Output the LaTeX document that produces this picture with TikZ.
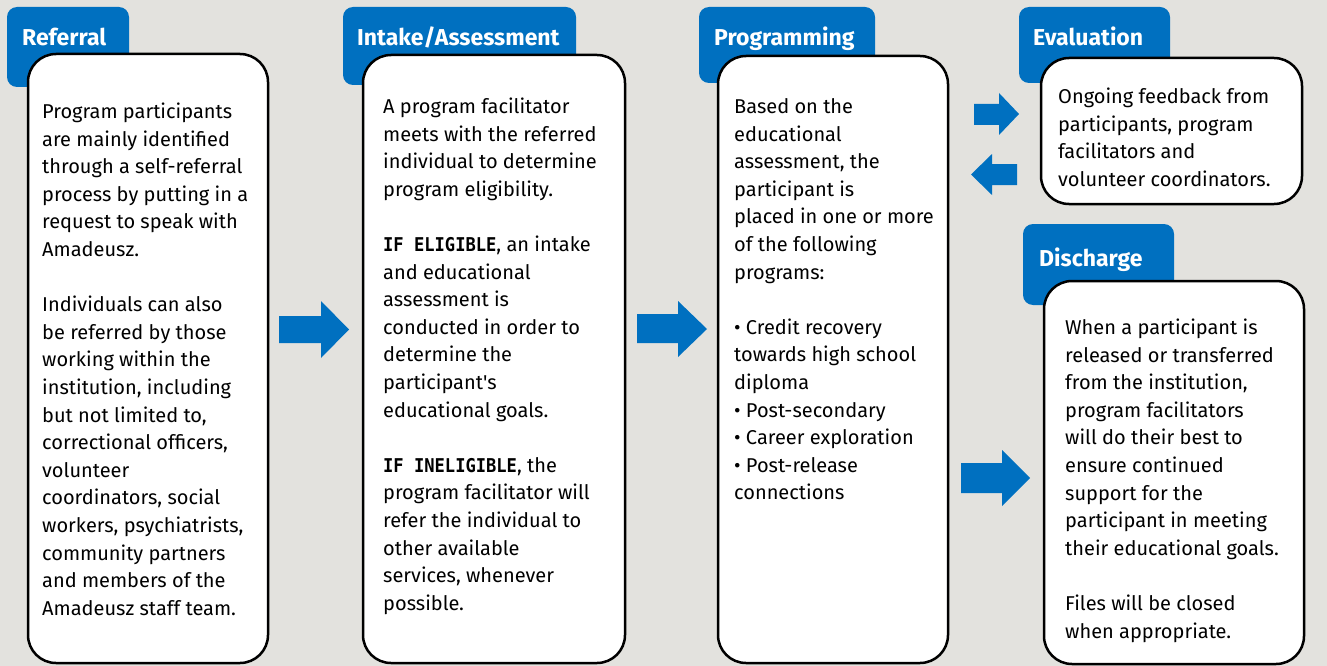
\documentclass[tikz,border=0pt]{standalone}
\usepackage{fontspec}
\setmainfont{Fira Sans}
\newfontfamily\plexmono[FakeStretch=0.9]{DejaVu Sans Mono}
\definecolor{bg}{RGB}{227,226,222}
\definecolor{tabblue}{RGB}{0,112,192}
\newcommand{\kw}[1]{{\plexmono\fontsize{19}{27.6}\selectfont\bfseries #1}}
\tikzset{
  tabbox/.style={fill=tabblue, draw=none, rounded corners=10pt, inner sep=0pt},
  cardbox/.style={fill=white, draw=black, line width=2.5pt, rounded corners=28pt, inner sep=0pt},
  titletext/.style={anchor=base west, inner sep=0pt, text=white, font=\fontsize{23}{27}\selectfont\bfseries},
  bodytext/.style={anchor=north west, inner sep=0pt, align=left, font=\fontsize{20}{27.6}\selectfont},
  blockarrow/.style={fill=tabblue, draw=none}
}
\begin{document}
\begin{tikzpicture}[x=1pt,y=-1pt]
\useasboundingbox (0,0) rectangle (1327,666);
\fill[bg] (0,0) rectangle (1327,666);

% tabs
\draw[tabbox] (7,7) rectangle (129,87);
\draw[tabbox] (343,7) rectangle (576,85);
\draw[tabbox] (699,7) rectangle (875,83);
\draw[tabbox] (1019,7) rectangle (1170,83);
\draw[tabbox] (1023,224) rectangle (1174,305);

\node[titletext] (t1) at (22,46) {Referral};
\node[titletext] (t2) at (357,46) {Intake/Assessment};
\node[titletext] (t3) at (714,46) {Programming};
\node[titletext] (t4) at (1033,46) {Evaluation};
\node[titletext] (t5) at (1039,266) {Discharge};

% cards
\node[cardbox, minimum width=240pt, minimum height=609pt] (referral) at (148,358.5) {};
\node[cardbox, minimum width=262pt, minimum height=608pt] (intake) at (494,359) {};
\node[cardbox, minimum width=230pt, minimum height=607pt] (programming) at (833,359.5) {};
\node[cardbox, minimum width=261pt, minimum height=146pt] (evaluation) at (1171.5,131) {};
\node[cardbox, minimum width=260pt, minimum height=383pt] (discharge) at (1174,472.5) {};

% texts
\node[bodytext] (x1) at (42,99) {\strut Program participants\\
are mainly identified\\
through a self-referral\\
process by putting in a\\
request to speak with\\
Amadeusz.\\[27.6pt]
Individuals can also\\
be referred by those\\
working within the\\
institution, including\\
but not limited to,\\
correctional officers,\\
volunteer\\
coordinators, social\\
workers, psychiatrists,\\
community partners\\
and members of the\\
Amadeusz staff team.};

\node[bodytext] (x2) at (383,94) {\strut A program facilitator\\
meets with the referred\\
individual to determine\\
program eligibility.\\[27.6pt]
\kw{IF ELIGIBLE}, an intake\\
and educational\\
assessment is\\
conducted in order to\\
determine the\\
participant\textquotesingle s\\
educational goals.\\[27.6pt]
\kw{IF INELIGIBLE}, the\\
program facilitator will\\
refer the individual to\\
other available\\
services, whenever\\
possible.};

\node[bodytext] (x3) at (734,94) {\strut Based on the\\
educational\\
assessment, the\\
participant is\\
placed in one or more\\
of the following\\
programs:\\[27.6pt]
• Credit recovery\\
towards high school\\
diploma\\
• Post-secondary\\
• Career exploration\\
• Post-release\\
connections};

\node[bodytext] (x4) at (1058,84) {\strut Ongoing feedback from\\
participants, program\\
facilitators and\\
volunteer coordinators.};

\node[bodytext] (x5) at (1065,315) {\strut When a participant is\\
released or transferred\\
from the institution,\\
program facilitators\\
will do their best to\\
ensure continued\\
support for the\\
participant in meeting\\
their educational goals.\\[27.6pt]
Files will be closed\\
when appropriate.};

% block arrows
\fill[blockarrow] (279,316) -- (321,316) -- (321,301) -- (349,329.5) -- (321,358) -- (321,343) -- (279,343) -- cycle;
\fill[blockarrow] (637,314) -- (678,314) -- (678,301) -- (707,329) -- (678,357) -- (678,343) -- (637,343) -- cycle;
\fill[blockarrow] (961,463) -- (1002,463) -- (1002,450) -- (1030,478) -- (1002,506) -- (1002,493) -- (961,493) -- cycle;
\fill[blockarrow] (974,104) -- (999,104) -- (999,93) -- (1019,114) -- (999,135) -- (999,125) -- (974,125) -- cycle;
\fill[blockarrow] (1017,164) -- (992,164) -- (992,154) -- (971,174.5) -- (992,195) -- (992,185) -- (1017,185) -- cycle;
\end{tikzpicture}
\end{document}
